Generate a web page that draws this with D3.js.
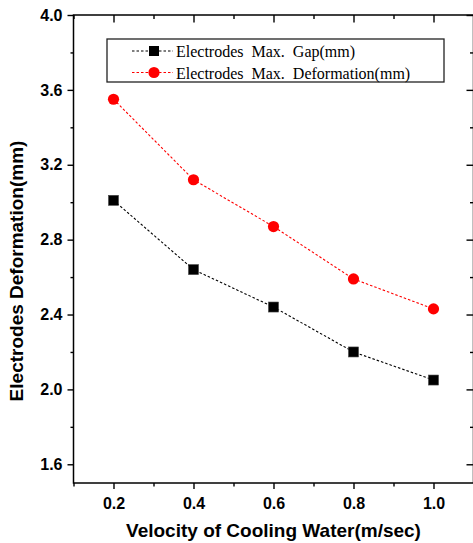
<!DOCTYPE html>
<html>
<head>
<meta charset="utf-8">
<script src="https://cdn.jsdelivr.net/npm/d3@7"></script>
<style>
  body { margin: 0; background: #fff; }
  svg { display: block; }
  .tick text { font-family: "Liberation Sans", Arial, sans-serif; font-weight: bold; font-size: 16px; fill: #000; }
  .axis path.domain { display: none; }
  .axis line { stroke: #000; stroke-width: 1.4; }
</style>
</head>
<body>
<svg id="chart" width="473" height="543"></svg>
<script>
// values
var velocity = [0.2, 0.4, 0.6, 0.8, 1.0];
var maxGap = [3.01, 2.64, 2.44, 2.20, 2.05];
var maxDeformation = [3.55, 3.12, 2.87, 2.59, 2.43];
var xMajorTicks = [0.2, 0.4, 0.6, 0.8, 1.0];
var xMinorTicks = [0.1, 0.3, 0.5, 0.7, 0.9];
var yMajorTicks = [1.6, 2.0, 2.4, 2.8, 3.2, 3.6, 4.0];
var yMinorTicks = [1.8, 2.2, 2.6, 3.0, 3.4, 3.8];
var seriesNames = ["Electrodes  Max.  Gap(mm)", "Electrodes  Max.  Deformation(mm)"];
var xLabel = "Velocity of Cooling Water(m/sec)";
var yLabel = "Electrodes Deformation(mm)";

var margin = { top: 15, right: -0.5, bottom: 60, left: 73.5 };
var width = 473 - margin.left - margin.right;
var height = 543 - margin.top - margin.bottom;

var svg = d3.select("#chart");
var g = svg.append("g")
    .attr("transform", "translate(" + margin.left + "," + margin.top + ")");

var x = d3.scaleLinear().domain([0.1, 1.1]).range([0, width]);
var y = d3.scaleLinear().domain([1.5, 4.0]).range([height, 0]);
var fmt = d3.format(".1f");

// bottom axis, outward ticks
g.append("g").attr("class", "axis")
    .attr("transform", "translate(0," + height + ")")
    .call(d3.axisBottom(x).tickValues(xMajorTicks).tickFormat(fmt).tickSize(6).tickPadding(9).tickSizeOuter(0));
g.append("g").attr("class", "axis")
    .attr("transform", "translate(0," + height + ")")
    .call(d3.axisBottom(x).tickValues(xMinorTicks).tickFormat("").tickSize(3.5).tickSizeOuter(0));

// left axis, outward ticks
g.append("g").attr("class", "axis")
    .call(d3.axisLeft(y).tickValues(yMajorTicks).tickFormat(fmt).tickSize(6).tickPadding(5).tickSizeOuter(0));
g.append("g").attr("class", "axis")
    .call(d3.axisLeft(y).tickValues(yMinorTicks).tickFormat("").tickSize(3).tickSizeOuter(0));

// top and right axes, inward ticks
g.append("g").attr("class", "axis")
    .call(d3.axisTop(x).tickValues(xMajorTicks).tickFormat("").tickSize(-7.5).tickSizeOuter(0));
g.append("g").attr("class", "axis")
    .call(d3.axisTop(x).tickValues(xMinorTicks).tickFormat("").tickSize(-4).tickSizeOuter(0));
g.append("g").attr("class", "axis")
    .attr("transform", "translate(" + width + ",0)")
    .call(d3.axisRight(y).tickValues(yMajorTicks).tickFormat("").tickSize(-7).tickSizeOuter(0));
g.append("g").attr("class", "axis")
    .attr("transform", "translate(" + width + ",0)")
    .call(d3.axisRight(y).tickValues(yMinorTicks).tickFormat("").tickSize(-3.5).tickSizeOuter(0));

// frame
g.append("rect")
    .attr("width", width).attr("height", height)
    .attr("fill", "none").attr("stroke", "#000").attr("stroke-width", 1.5);

// series
var gapData = velocity.map(function (v, i) { return { v: v, val: maxGap[i] }; });
var defData = velocity.map(function (v, i) { return { v: v, val: maxDeformation[i] }; });

var line = d3.line()
    .x(function (d) { return x(d.v); })
    .y(function (d) { return y(d.val); });

g.append("path").datum(gapData)
    .attr("d", line).attr("fill", "none")
    .attr("stroke", "#000").attr("stroke-width", 1.1).attr("stroke-dasharray", "2.5,2");
g.append("path").datum(defData)
    .attr("d", line).attr("fill", "none")
    .attr("stroke", "#ff0000").attr("stroke-width", 1.1).attr("stroke-dasharray", "2.5,2");

g.selectAll(".sq").data(gapData).enter().append("rect")
    .attr("class", "sq")
    .attr("x", function (d) { return x(d.v) - 5; })
    .attr("y", function (d) { return y(d.val) - 5; })
    .attr("width", 10).attr("height", 10)
    .attr("fill", "#000").attr("stroke", "#444").attr("stroke-width", 0.6);

g.selectAll(".dot").data(defData).enter().append("circle")
    .attr("class", "dot")
    .attr("cx", function (d) { return x(d.v); })
    .attr("cy", function (d) { return y(d.val); })
    .attr("r", 5.6)
    .attr("fill", "#ff0000");

// legend
var legend = svg.append("g").attr("transform", "translate(107,39)");
legend.append("rect")
    .attr("width", 337).attr("height", 43)
    .attr("fill", "#fff").attr("stroke", "#222").attr("stroke-width", 1.3);

var legendRows = [
    { name: seriesNames[0], color: "#000", shape: "square", cy: 12 },
    { name: seriesNames[1], color: "#ff0000", shape: "circle", cy: 33.5 }
];
legendRows.forEach(function (r) {
    legend.append("line")
        .attr("x1", 25).attr("x2", 66).attr("y1", r.cy).attr("y2", r.cy)
        .attr("stroke", r.color).attr("stroke-width", 1.1).attr("stroke-dasharray", "2.5,2");
    if (r.shape == "square") {
        legend.append("rect")
            .attr("x", 42).attr("y", r.cy - 5).attr("width", 10).attr("height", 10)
            .attr("fill", "#000");
    } else {
        legend.append("circle")
            .attr("cx", 47).attr("cy", r.cy).attr("r", 5.6).attr("fill", "#ff0000");
    }
    legend.append("text")
        .attr("x", 69).attr("y", r.cy + 6)
        .attr("xml:space", "preserve")
        .style("white-space", "pre")
        .style("font-family", "'Liberation Serif', 'Times New Roman', serif")
        .style("font-size", "16px")
        .text(r.name);
});

// axis titles
svg.append("text")
    .attr("x", margin.left + width / 2).attr("y", 537)
    .attr("text-anchor", "middle")
    .style("font-family", "'Liberation Sans', Arial, sans-serif")
    .style("font-weight", "bold").style("font-size", "19px")
    .text(xLabel);

svg.append("text")
    .attr("transform", "translate(23,271) rotate(-90)")
    .attr("text-anchor", "middle")
    .style("font-family", "'Liberation Sans', Arial, sans-serif")
    .style("font-weight", "bold").style("font-size", "19px")
    .text(yLabel);
</script>
</body>
</html>
